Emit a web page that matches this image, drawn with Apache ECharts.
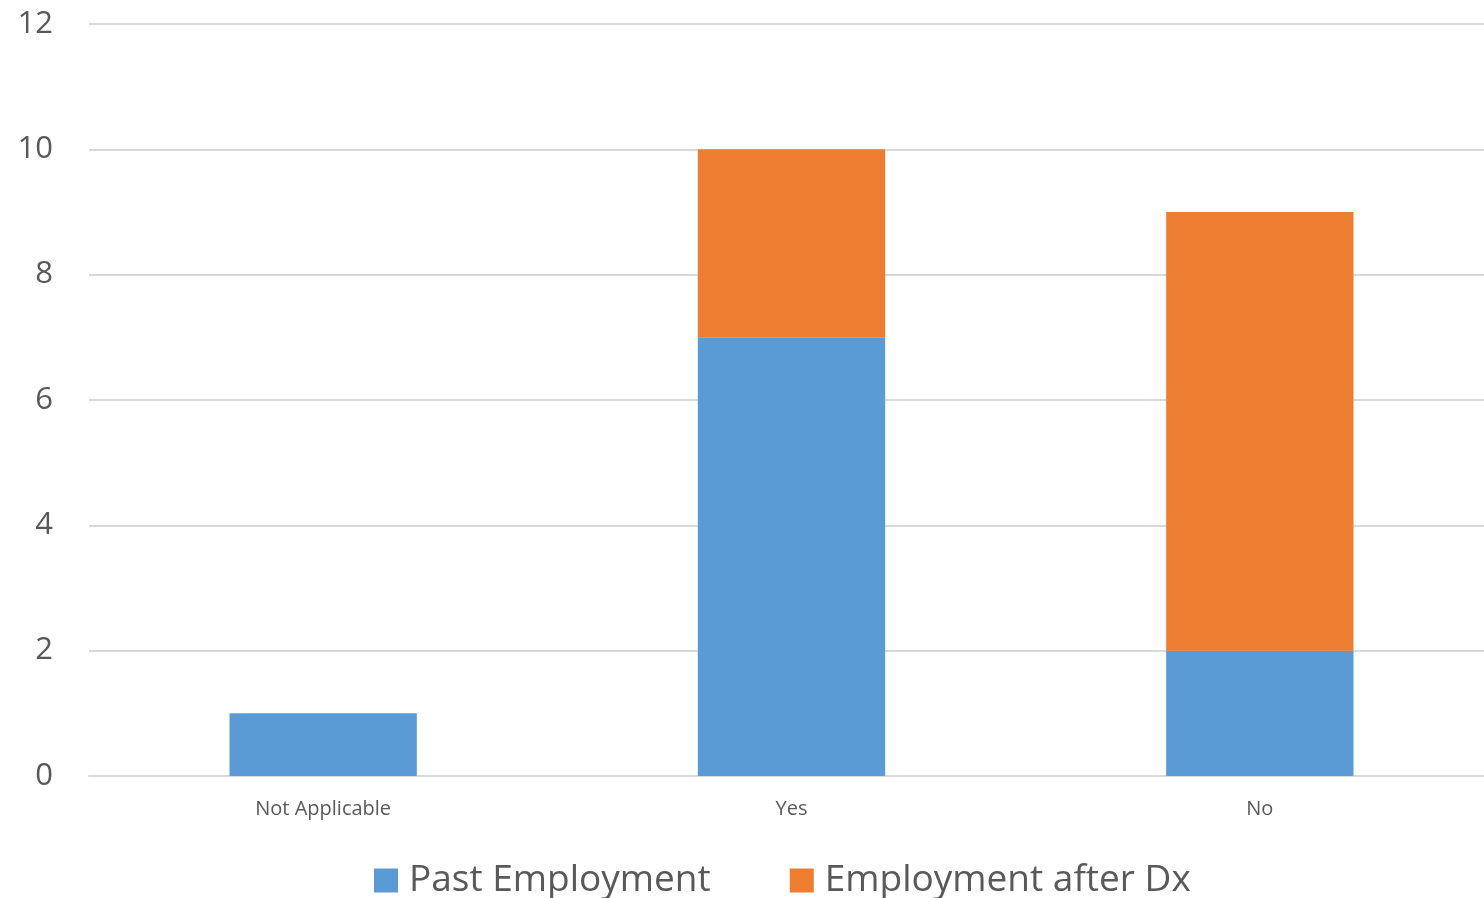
<!DOCTYPE html>
<html><head><meta charset="utf-8">
<script src="https://cdn.jsdelivr.net/npm/echarts@6/dist/echarts.min.js"></script>
<style>html,body{margin:0;padding:0;background:#fff;overflow:hidden;width:1484px;height:898px}#c{width:1494px;height:898px}</style>
</head><body><div id="c"></div>
<script>
const categories = ["Not Applicable", "Yes", "No"];
const pastEmployment = [1, 7, 2];
const employmentAfterDx = [0, 3, 7];
const yTicks = [0, 2, 4, 6, 8, 10, 12];

const chart = echarts.init(document.getElementById('c'));
chart.setOption({
  animation: false,
  textStyle: { fontFamily: "Open Sans" },
  grid: { left: 89, top: 24, right: 0, bottom: 122, containLabel: false },
  legend: {
    bottom: -6, left: 369, itemWidth: 24, itemHeight: 24, itemGap: 79,
    icon: 'rect',
    textStyle: { fontSize: 37, color: '#595959', fontFamily: "Open Sans", padding: [0, 0, 0, 6] },
    data: ["Past Employment", "Employment after Dx"]
  },
  xAxis: {
    type: 'category', data: categories,
    axisLine: { lineStyle: { color: '#d9d9d9', width: 2 } },
    axisTick: { show: false },
    axisLabel: { fontSize: 20, color: '#595959', margin: 23 }
  },
  yAxis: {
    type: 'value', min: yTicks[0], max: yTicks[yTicks.length - 1], interval: 2,
    axisLine: { show: false }, axisTick: { show: false },
    axisLabel: { fontSize: 31, color: '#595959', margin: 36 },
    splitLine: { lineStyle: { color: '#d9d9d9', width: 2 } }
  },
  series: [
    { name: "Past Employment", type: 'bar', stack: 's', data: pastEmployment,
      barWidth: '40%', itemStyle: { color: '#5b9bd5' } },
    { name: "Employment after Dx", type: 'bar', stack: 's', data: employmentAfterDx,
      barWidth: '40%', itemStyle: { color: '#ed7d31' } }
  ]
});
</script></body></html>
